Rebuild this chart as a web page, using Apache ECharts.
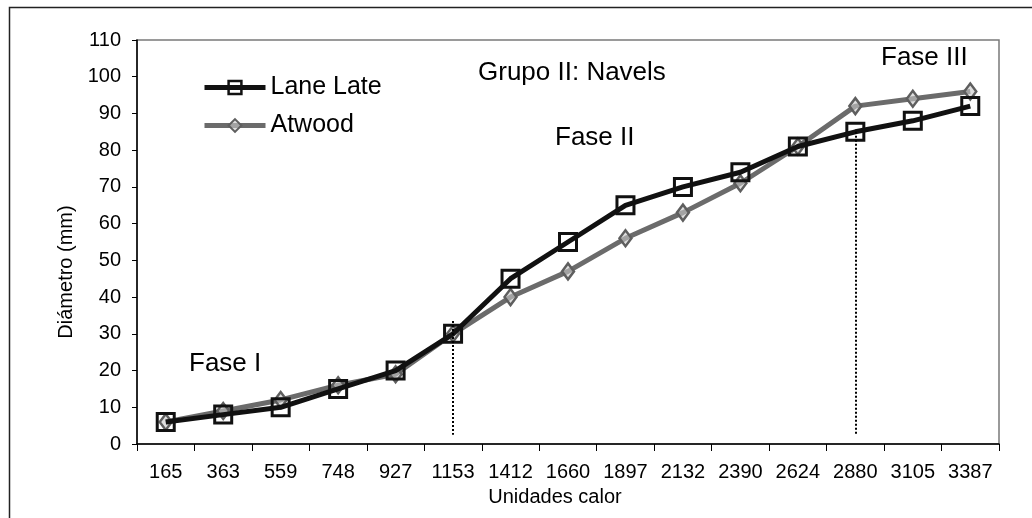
<!DOCTYPE html>
<html>
<head>
<meta charset="utf-8">
<script src="https://cdn.jsdelivr.net/npm/echarts@6/dist/echarts.min.js"></script>
<style>html,body{margin:0;padding:0;background:#fff;}#c{width:1032px;height:518px;}</style>
</head>
<body>
<div id="c"></div>
<script>
var categories = ['165','363','559','748','927','1153','1412','1660','1897','2132','2390','2624','2880','3105','3387'];
var laneLate = [6, 8, 10, 15, 20, 30, 45, 55, 65, 70, 74, 81, 85, 88, 92];
var atwood = [6, 9, 12, 16, 19, 30, 40, 47, 56, 63, 71, 81, 92, 94, 96];
var yTicks = {min: 0, max: 110, interval: 10};
var phaseLines = [{cat: '1153', from: 33.5, to: 2.5}, {cat: '2880', from: 85, to: 2.5}];

var FONT = '"Liberation Sans", Arial, sans-serif';
var chart = echarts.init(document.getElementById('c'), null, {renderer: 'canvas'});
chart.setOption({
  animation: false,
  backgroundColor: '#fff',
  grid: {left: 137, top: 40, right: 33, bottom: 74, show: true, borderColor: '#7a7a7a', borderWidth: 1.5, backgroundColor: 'transparent'},
  legend: {
    left: 197, top: 70, orient: 'vertical', itemWidth: 61, itemHeight: 16, itemGap: 13,
    textStyle: {fontFamily: FONT, fontSize: 25, color: '#000'},
    data: [
      {name: 'Lane Late', lineStyle: {width: 5, color: '#111'}, itemStyle: {borderWidth: 2.5}},
      {name: 'Atwood', lineStyle: {width: 5, color: '#6b6b6b'}, itemStyle: {borderWidth: 2}}
    ]
  },
  xAxis: {
    type: 'category', data: categories, boundaryGap: true,
    name: 'Unidades calor', nameLocation: 'middle', nameGap: 43,
    nameTextStyle: {fontFamily: FONT, fontSize: 20, color: '#000', padding: [0, 26, 0, 0]},
    axisLine: {lineStyle: {color: '#000', width: 1.5}},
    axisTick: {show: true, length: 7, alignWithLabel: false, lineStyle: {color: '#000'}},
    axisLabel: {fontFamily: FONT, fontSize: 20, color: '#000', margin: 18, interval: 0},
    splitLine: {show: false}
  },
  yAxis: {
    type: 'value', min: yTicks.min, max: yTicks.max, interval: yTicks.interval,
    name: 'Diámetro (mm)', nameLocation: 'middle', nameGap: 60, nameRotate: 90,
    nameTextStyle: {fontFamily: FONT, fontSize: 20, color: '#000', padding: [0, 60, 0, 0]},
    axisLine: {show: true, lineStyle: {color: '#000', width: 1.5}},
    axisTick: {show: true, length: 5, lineStyle: {color: '#000'}},
    axisLabel: {fontFamily: FONT, fontSize: 20, color: '#000', margin: 16},
    splitLine: {show: false}
  },
  series: [
    {
      name: 'Lane Late', type: 'line', data: laneLate, z: 3,
      lineStyle: {color: '#111', width: 5},
      symbol: 'rect', symbolSize: 17, showAllSymbol: true,
      itemStyle: {color: 'transparent', borderColor: '#111', borderWidth: 3},
      markLine: {
        silent: true, symbol: 'none', label: {show: false},
        lineStyle: {color: '#000', type: 'dotted', width: 2},
        emphasis: {disabled: true},
        data: phaseLines.map(function (p) {
          return [{xAxis: p.cat, yAxis: p.from}, {xAxis: p.cat, yAxis: p.to}];
        })
      }
    },
    {
      name: 'Atwood', type: 'line', data: atwood, z: 2,
      lineStyle: {color: '#6b6b6b', width: 5},
      symbol: 'diamond', symbolSize: [12, 16], showAllSymbol: true,
      itemStyle: {color: 'rgba(200,200,200,0.6)', borderColor: '#5e5e5e', borderWidth: 2.5}
    }
  ],
  graphic: [
    {type: 'rect', left: 7, top: 5, silent: true, shape: {x: 0, y: 0, width: 1100, height: 600}, style: {fill: 'none', stroke: '#222', lineWidth: 1.5}, z: -10},
    {type: 'text', x: 478, y: 73, style: {text: 'Grupo II: Navels', font: '26px ' + FONT, fill: '#000', verticalAlign: 'middle'}},
    {type: 'text', x: 555, y: 138, style: {text: 'Fase II', font: '26px ' + FONT, fill: '#000', verticalAlign: 'middle'}},
    {type: 'text', x: 881, y: 58, style: {text: 'Fase III', font: '26px ' + FONT, fill: '#000', verticalAlign: 'middle'}},
    {type: 'text', x: 189, y: 364, style: {text: 'Fase I', font: '26px ' + FONT, fill: '#000', verticalAlign: 'middle'}}
  ]
});
</script>
</body>
</html>
